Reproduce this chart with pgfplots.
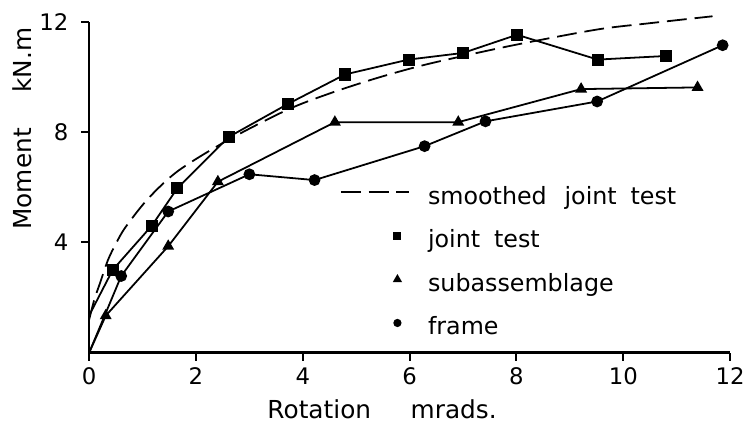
\documentclass[border=0pt]{standalone}
\usepackage{fontspec}
\setmainfont{DejaVu Sans}
\usepackage{pgfplots}
\pgfplotsset{compat=1.18}
\pgfplotsset{
  dashleg/.style={legend image code/.code={\draw[##1] (0pt,3pt) -- (34.5pt,3pt);}},
  markleg/.style={legend image code/.code={\path[draw=none] (0pt,3pt) -- (34.5pt,3pt);
    \draw[##1, only marks, mark size=#1] plot coordinates {(28.5pt,3pt)};}},
}
\begin{document}
\begin{tikzpicture}
\begin{axis}[
  scale only axis, width=323.5pt, height=167pt,
  xmin=0, xmax=12, ymin=0, ymax=12, clip=false,
  axis x line*=bottom, axis y line*=left,
  axis line style={line width=1.2pt},
  xtick={0,2,...,12}, ytick={4,8,12},
  tick style={line width=1pt, black}, tick align=outside, major tick length=4pt,
  tick label style={font=\fontsize{11.5}{14}\selectfont},
  /pgf/number format/assume math mode=true,
  yticklabel style={xshift=-3pt},
  xlabel={Rotation\hspace{20pt}mrads.},
  ylabel={Moment\hspace{18pt}kN.m},
  label style={font=\fontsize{12.5}{15}\selectfont},
  xlabel style={at={(axis description cs:0.457,-0.198)}, anchor=base},
  ylabel style={at={(axis description cs:-0.105,0.677)}, anchor=center},
  legend style={draw=none, fill=none, at={(axis cs:4.69,6.05)}, anchor=north west,
    inner sep=0pt, row sep=10pt, font=\fontsize{12}{14}\selectfont,
    nodes={inner xsep=0pt, inner ysep=0pt, text height=9pt, text depth=3pt},
    /tikz/every odd column/.append style={column sep=9pt}},
  legend cell align=left,
]
% smoothed joint test
\addplot[black, line width=0.9pt, dash pattern=on 10pt off 4pt, smooth, dashleg]
  coordinates {(0,1.2) (0.1,1.95) (0.19,2.45) (0.35,3.35) (0.5,3.95) (0.68,4.55)
  (1.11,5.6) (1.67,6.6) (2.59,7.7) (3.7,8.8) (4.5,9.4) (5.37,9.95) (6.2,10.4)
  (6.98,10.75) (8.02,11.18) (9.51,11.72) (10.5,11.95) (11.67,12.2)};
\addlegendentry{smoothed\hspace{9pt}joint\hspace{7pt}test}
% start segments, no marks
\addplot[black, line width=0.9pt, forget plot] coordinates {(0,1.35) (0.44,3.0)};
\addplot[black, line width=0.9pt, forget plot] coordinates {(0,0) (0.31,1.34)};
\addplot[black, line width=0.9pt, forget plot] coordinates {(0,0) (0.6,2.78)};
% joint test
\addplot[black, line width=0.9pt, mark=square*, mark size=2.6pt, markleg=1.6pt]
  coordinates {(0.44,3.0) (1.17,4.6) (1.65,5.96) (2.61,7.82) (3.72,9.02) (4.79,10.09)
  (5.98,10.63) (7.0,10.87) (8.01,11.53) (9.52,10.63) (10.8,10.76)};
\addlegendentry{joint\hspace{7pt}test}
% subassemblage
\addplot[black, line width=0.9pt, mark=triangle*, mark size=2.6pt, markleg=1.8pt]
  coordinates {(0.31,1.34) (1.48,3.86) (2.41,6.2) (4.6,8.36) (6.91,8.36) (9.21,9.56) (11.39,9.62)};
\addlegendentry{subassemblage}
% frame
\addplot[black, line width=0.9pt, mark=*, mark size=2.5pt, markleg=1.6pt]
  coordinates {(0.6,2.78) (1.48,5.12) (3.0,6.47) (4.22,6.26) (6.28,7.49) (7.42,8.39) (9.51,9.11) (11.86,11.15)};
\addlegendentry{frame}
\end{axis}
\pgfresetboundingbox
\path (-45pt,-44.5pt) rectangle (331pt,178pt);
\end{tikzpicture}
\end{document}
